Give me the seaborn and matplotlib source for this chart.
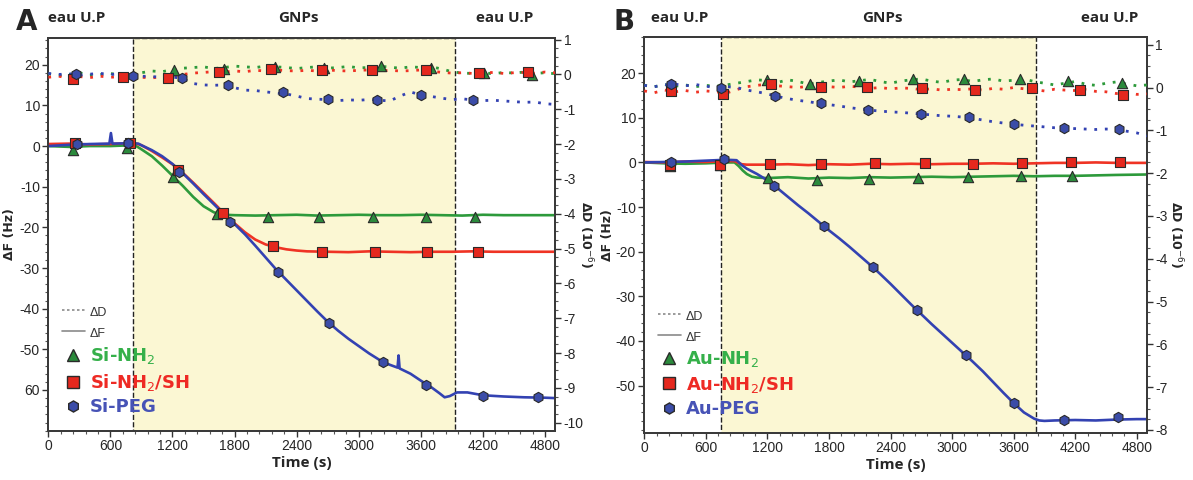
import numpy as np
import pandas as pd
import matplotlib
matplotlib.use('Agg')
import matplotlib.pyplot as plt
from matplotlib.lines import Line2D
from matplotlib.ticker import MultipleLocator
import seaborn as sns

# ---------------- data ----------------
# time grid (s) for the dissipation traces, one reading every 100 s
t_grid = list(range(0, 4901, 100))

# ---- panel A (Si) : frequency shift dF (Hz)
tA_nh2 = [0, 200, 400, 600, 800, 850, 900, 1000, 1100, 1200, 1300, 1400, 1500, 1600, 1700, 1800,
          2000, 2200, 2400, 2600, 2800, 3000, 3200, 3400, 3600, 3800, 4000, 4200, 4400, 4600, 4900]
dF_A_nh2 = [0, -0.2, 0, 0, 0.2, 0, -0.8, -2.5, -4.8, -7.3, -9.8, -12.5, -14.8, -16.3, -16.9, -17.0,
            -17.1, -17.0, -16.9, -17.1, -17.0, -16.9, -17.0, -17.0, -16.9, -17.0, -17.1, -16.9, -17.0, -17.0, -17.0]
tA_sh = [0, 200, 400, 600, 800, 850, 900, 1000, 1100, 1200, 1300, 1400, 1500, 1600, 1700, 1800, 1900,
         2000, 2100, 2200, 2300, 2400, 2500, 2700, 2900, 3100, 3300, 3500, 3700, 3900, 4100, 4300, 4500, 4700, 4900]
dF_A_sh = [0.5, 0.6, 0.4, 0.5, 0.7, 0.6, 0.2, -1.2, -2.8, -4.5, -6.6, -9.0, -11.5, -14.0, -16.6, -19.0, -21.2,
           -23.0, -24.2, -24.9, -25.4, -25.7, -25.9, -26.0, -26.1, -25.9, -26.0, -26.1, -26.0, -26.0, -25.9, -26.0,
           -26.0, -26.0, -26.0]
tA_peg = [0, 200, 400, 590, 605, 620, 800, 870, 900, 1000, 1100, 1200, 1300, 1400, 1500, 1600, 1700, 1800,
          1900, 2000, 2100, 2200, 2300, 2400, 2500, 2600, 2700, 2800, 2900, 3000, 3100, 3200, 3300, 3375, 3385,
          3395, 3500, 3600, 3700, 3780, 3830, 3880, 3950, 4050, 4200, 4400, 4600, 4800, 4900]
dF_A_peg = [0, 0.3, 0.5, 0.6, 3.2, 0.6, 0.7, 0.6, 0.2, -1.0, -2.5, -4.4, -6.7, -9.2, -11.8, -14.3, -16.8, -19.2,
            -21.7, -24.5, -27.4, -30.3, -32.9, -35.5, -38.1, -40.7, -43.2, -45.4, -47.4, -49.2, -51.0, -52.6, -53.8,
            -54.5, -51.5, -54.7, -56.0, -57.7, -59.3, -60.8, -61.8, -61.5, -60.6, -60.6, -61.3, -61.6, -61.8, -61.9, -62.0]

# panel A : dissipation dD (1e-6), on t_grid
dD_A_nh2 = [0.02, -0.03, 0.0, 0.05, -0.02, 0.0, 0.03, -0.02, 0.0,
            0.05, 0.1, 0.08, 0.14, 0.18, 0.2, 0.22, 0.17, 0.2, 0.24, 0.22, 0.2, 0.24, 0.22, 0.2,
            0.17, 0.2, 0.22, 0.18, 0.2, 0.23, 0.19, 0.2, 0.24, 0.21, 0.18, 0.22, 0.2, 0.22, 0.16,
            0.08, 0.04, 0.03, 0.05, 0.02, 0.06, 0.04, 0.07, 0.03, 0.05, 0.02]
dD_A_sh = [-0.08, -0.05, -0.1, -0.06, -0.09, -0.05, -0.08, -0.06, -0.07,
           -0.08, -0.1, -0.06, -0.05, 0.0, 0.04, 0.06, 0.08, 0.07, 0.1, 0.08, 0.12, 0.1, 0.13, 0.11,
           0.1, 0.12, 0.1, 0.13, 0.11, 0.1, 0.12, 0.13, 0.1, 0.12, 0.1, 0.11, 0.13, 0.1, 0.06,
           0.04, 0.05, 0.03, 0.04, 0.06, 0.03, 0.05, 0.06, 0.04, 0.07, 0.05]
dD_A_peg = [0.03, 0.0, 0.02, -0.02, 0.01, 0.03, 0.0, 0.02, -0.03,
            -0.05, -0.06, -0.08, -0.07, -0.12, -0.26, -0.3, -0.31, -0.3, -0.38, -0.45, -0.46, -0.5, -0.53,
            -0.56, -0.62, -0.69, -0.71, -0.72, -0.75, -0.73, -0.74, -0.72, -0.74, -0.76, -0.62, -0.5, -0.59,
            -0.63, -0.68, -0.72, -0.7, -0.73, -0.75, -0.74, -0.76, -0.78, -0.8, -0.79, -0.84, -0.86]

# panel A markers
mF_A_nh2_t = [242, 756, 1202, 1627, 2126, 2619, 3141, 3647, 4123]
mF_A_nh2_v = [-1.0, -0.6, -7.5, -16.6, -17.4, -17.4, -17.4, -17.4, -17.4]
mF_A_sh_t = [258, 789, 1256, 1691, 2168, 2641, 3156, 3656, 4148]
mF_A_sh_v = [0.7, 0.7, -5.9, -16.5, -24.5, -26.0, -26.0, -26.0, -26.0]
mF_A_peg_t = [280, 773, 1266, 1756, 2222, 2713, 3235, 3650, 4203, 4732]
mF_A_peg_v = [0.5, 0.8, -6.3, -18.8, -30.9, -43.5, -53.0, -58.7, -61.4, -61.8]
mD_A_nh2_t = [1218, 1698, 2191, 2669, 3215, 3698, 4206, 4679]
mD_A_nh2_v = [0.12, 0.15, 0.22, 0.19, 0.25, 0.19, 0.04, -0.02]
mD_A_sh_t = [237, 725, 1155, 1654, 2154, 2642, 3124, 3653, 4161, 4635]
mD_A_sh_v = [-0.12, -0.07, -0.1, 0.08, 0.15, 0.12, 0.14, 0.12, 0.03, 0.07]
mD_A_peg_t = [263, 821, 1292, 1740, 2266, 2706, 3172, 3598, 4109]
mD_A_peg_v = [0.0, -0.05, -0.09, -0.29, -0.51, -0.70, -0.72, -0.59, -0.73]

# ---- panel B (Au) : frequency shift dF (Hz)
tB_nh2 = [0, 200, 400, 600, 800, 880, 920, 960, 1000, 1050, 1100, 1200, 1400, 1600, 1800, 2000, 2200,
          2400, 2600, 2800, 3000, 3200, 3400, 3600, 3800, 4000, 4200, 4400, 4600, 4900]
dF_B_nh2 = [0, -0.2, -0.3, -0.2, 0, 0, -0.8, -1.8, -2.6, -3.2, -3.4, -3.5, -3.3, -3.6, -3.4, -3.5, -3.3,
            -3.4, -3.3, -3.2, -3.3, -3.2, -3.1, -3.0, -3.1, -3.0, -3.0, -2.9, -2.8, -2.7]
tB_sh = [0, 200, 400, 600, 800, 880, 950, 1000, 1200, 1400, 1600, 1800, 2000, 2200, 2400, 2600, 2800,
         3000, 3200, 3400, 3600, 3800, 4000, 4200, 4400, 4600, 4900]
dF_B_sh = [0.1, 0.0, 0.2, 0.1, 0.3, 0.3, -0.4, -0.5, -0.5, -0.4, -0.6, -0.4, -0.5, -0.3, -0.4, -0.3, -0.4,
           -0.3, -0.3, -0.2, -0.3, -0.2, -0.1, -0.1, 0.0, -0.1, -0.1]
tB_peg = [0, 200, 400, 600, 700, 800, 900, 950, 1000, 1100, 1200, 1300, 1400, 1500, 1600, 1700, 1800,
          1900, 2000, 2100, 2200, 2300, 2400, 2500, 2600, 2700, 2800, 2900, 3000, 3100, 3200, 3300, 3400,
          3500, 3600, 3700, 3800, 3850, 3900, 4000, 4200, 4400, 4600, 4800, 4900]
dF_B_peg = [0, 0.1, 0.2, 0.4, 0.5, 0.6, 0.5, -0.6, -1.4, -2.6, -4.0, -5.8, -7.7, -9.6, -11.4, -13.3, -15.2,
            -17.0, -18.9, -20.9, -22.9, -25.0, -27.2, -29.5, -31.8, -34.0, -36.2, -38.3, -40.4, -42.5, -44.6,
            -46.8, -49.2, -51.6, -53.9, -56.0, -57.4, -57.8, -57.9, -57.8, -57.7, -57.8, -57.6, -57.5, -57.5]

# panel B : dissipation dD (1e-6), on t_grid
dD_B_nh2 = [0.05, 0.02, 0.07, 0.03, 0.06, 0.02, 0.05, 0.03, 0.06,
            0.1, 0.14, 0.18, 0.16, 0.12, 0.18, 0.14, 0.08, 0.12, 0.15, 0.18, 0.13, 0.16, 0.19, 0.14,
            0.1, 0.15, 0.18, 0.2, 0.15, 0.12, 0.17, 0.19, 0.14, 0.18, 0.2, 0.15, 0.17, 0.2, 0.14,
            0.1, 0.06, 0.1, 0.14, 0.08, 0.05, 0.1, 0.13, 0.08, 0.04, 0.06]
dD_B_sh = [-0.08, -0.12, -0.06, -0.1, -0.07, -0.11, -0.08, -0.1, -0.13,
           -0.05, 0.02, 0.05, 0.08, 0.04, 0.02, 0.0, 0.03, 0.01, 0.02, 0.0, 0.03, 0.01, -0.02, 0.0,
           -0.03, -0.01, -0.02, -0.05, -0.03, -0.06, -0.04, -0.05, -0.03, -0.06, -0.02, -0.04, 0.0, -0.03,
           -0.05, -0.08, -0.04, -0.06, -0.07, -0.05, -0.09, -0.1, -0.14, -0.12, -0.16, -0.15]
dD_B_peg = [0.05, 0.02, 0.06, 0.08, 0.04, 0.07, 0.03, 0.0, 0.02,
            0.0, -0.06, -0.1, -0.15, -0.21, -0.26, -0.3, -0.33, -0.37, -0.4, -0.43, -0.47, -0.5, -0.53,
            -0.55, -0.57, -0.58, -0.6, -0.62, -0.64, -0.66, -0.67, -0.69, -0.72, -0.76, -0.8, -0.83, -0.86,
            -0.88, -0.9, -0.92, -0.94, -0.95, -0.96, -0.97, -0.98, -0.97, -0.98, -1.02, -1.06, -1.13]

# panel B markers
mF_B_nh2_t = [255, 741, 1210, 1684, 2195, 2672, 3154, 3670, 4165]
mF_B_nh2_v = [-0.7, -0.5, -3.5, -3.9, -3.7, -3.5, -3.3, -3.1, -3.1]
mF_B_sh_t = [255, 741, 1223, 1724, 2250, 2738, 3200, 3678, 4156, 4640]
mF_B_sh_v = [-0.6, -0.6, -0.4, -0.4, -0.15, -0.15, -0.4, -0.2, 0.2, 0.1]
mF_B_peg_t = [265, 776, 1268, 1751, 2225, 2654, 3137, 3606, 4093, 4620]
mF_B_peg_v = [0.2, 0.8, -5.2, -14.2, -23.4, -33.0, -43.2, -54.0, -57.7, -57.1]
mD_B_nh2_t = [1200, 1619, 2097, 2616, 3115, 3658, 4131, 4651]
mD_B_nh2_v = [0.17, 0.08, 0.15, 0.19, 0.19, 0.19, 0.15, 0.1]
mD_B_sh_t = [261, 772, 1240, 1723, 2172, 2703, 3228, 3777, 4249, 4664]
mD_B_sh_v = [-0.08, -0.14, 0.08, 0.01, 0.02, -0.02, -0.06, 0.0, -0.06, -0.17]
mD_B_peg_t = [261, 747, 1277, 1723, 2180, 2699, 3161, 3607, 4095, 4627]
mD_B_peg_v = [0.08, 0.0, -0.2, -0.37, -0.53, -0.62, -0.7, -0.86, -0.95, -0.98]

# injection window (GNPs) and axis settings
gnp_A = (818, 3929)
gnp_B = (753, 3815)
time_ticks = [0, 600, 1200, 1800, 2400, 3000, 3600, 4200, 4800]
yticks_A = [20, 10, 0, -10, -20, -30, -40, -50, -60]
ylabels_A = ['20', '10', '0', '-10', '-20', '-30', '-40', '-50', '60']
yticks_B = [20, 10, 0, -10, -20, -30, -40, -50]
labels_A = ['Si-NH$_2$', 'Si-NH$_2$/SH', 'Si-PEG']
labels_B = ['Au-NH$_2$', 'Au-NH$_2$/SH', 'Au-PEG']

# ---------------- styling ----------------
sns.set_style('ticks')
plt.rcParams['font.family'] = ['Liberation Sans', 'DejaVu Sans']
line_cols = ['#2d9a3b', '#ef3324', '#3342b2']
face_cols = ['#2b8a3c', '#e5281e', '#3b4ca8']
text_cols = ['#35b04a', '#ee2a24', '#4753b6']
markers = ['^', 's', 'h']
shade = '#fbf7d3'
dots = (0, (1.0, 2.8))


def draw_panel(ax, gnp, dF, dD, mF, mD, ylim_l, ylim_r, yt, ytl, rt, labels, lpad_l, lpad_r):
    ax.axvspan(gnp[0], gnp[1], facecolor=shade, edgecolor='#222222', ls='--', lw=1.0, zorder=0)
    ax2 = ax.twinx()
    for i in range(3):
        t, v = dF[i]
        sns.lineplot(x=t, y=v, ax=ax, color=line_cols[i], lw=1.9, estimator=None, sort=False, zorder=3)
        t, v = dD[i]
        sns.lineplot(x=t, y=v, ax=ax2, color=line_cols[i], lw=2.0, linestyle=dots,
                     estimator=None, sort=False, zorder=3)
    for i in range(3):
        t, v = mF[i]
        sns.scatterplot(x=t, y=v, ax=ax, marker=markers[i], color=face_cols[i], s=55,
                        edgecolor='#2a2a2a', linewidth=0.8, zorder=5)
        t, v = mD[i]
        sns.scatterplot(x=t, y=v, ax=ax2, marker=markers[i], color=face_cols[i], s=55,
                        edgecolor='#2a2a2a', linewidth=0.8, zorder=5)
    ax.set_xlim(0, 4900)
    ax.set_ylim(*ylim_l)
    ax2.set_ylim(*ylim_r)
    ax.set_xticks(time_ticks)
    ax.set_yticks(yt)
    ax.set_yticklabels(ytl)
    ax2.set_yticks(rt)
    ax2.set_yticklabels([str(r) for r in rt])
    ax.xaxis.set_minor_locator(MultipleLocator(120))
    ax.yaxis.set_minor_locator(MultipleLocator(2))
    ax2.yaxis.set_minor_locator(MultipleLocator(0.25))
    for a in (ax, ax2):
        a.tick_params(which='major', length=4, width=1, color='#333333', labelsize=10, pad=2)
        a.tick_params(which='minor', length=2, width=0.8, color='#555555')
        for s in a.spines.values():
            s.set_color('#3a3a3a')
            s.set_linewidth(1.4)
    ax.set_ylabel('ΔF (Hz)', fontsize=9, fontweight='bold', family=['DejaVu Sans'], labelpad=lpad_l)
    ax2.set_ylabel('ΔD (10$^{-6}$)', fontsize=9, fontweight='bold', family=['DejaVu Sans'],
                   rotation=270, labelpad=lpad_r)
    ax.set_xlabel('Time (s)', fontsize=11, fontweight='bold', family=['Open Sans', 'DejaVu Sans'], labelpad=2)

    handles = [Line2D([], [], color='#8a8a8a', lw=1.2, linestyle=(0, (1.5, 1.5))),
               Line2D([], [], color='#8a8a8a', lw=1.2)]
    for i in range(3):
        handles.append(Line2D([], [], ls='none', marker=markers[i], markersize=8,
                              markerfacecolor=face_cols[i], markeredgecolor='#2a2a2a'))
    leg = ax.legend(handles, ['ΔD', 'ΔF'] + labels, loc='lower left', bbox_to_anchor=(0.005, 0.01),
                    frameon=False, handlelength=1.3, handletextpad=0.25, labelspacing=0.3,
                    borderpad=0.1, fontsize=13)
    texts = leg.get_texts()
    for tx in texts[:2]:
        tx.set_fontsize(9)
        tx.set_color('#333333')
    for i, tx in enumerate(texts[2:]):
        tx.set_color(text_cols[i])
        tx.set_fontweight('bold')
        tx.set_family(['DejaVu Sans'])
    return ax2


fig = plt.figure(figsize=(11.93, 4.8), dpi=100)
axA = fig.add_axes([0.0405, 0.102, 0.425, 0.819])
axB = fig.add_axes([0.540, 0.098, 0.4215, 0.824])

draw_panel(axA, gnp_A,
           [(tA_nh2, dF_A_nh2), (tA_sh, dF_A_sh), (tA_peg, dF_A_peg)],
           [(t_grid, dD_A_nh2), (t_grid, dD_A_sh), (t_grid, dD_A_peg)],
           [(mF_A_nh2_t, mF_A_nh2_v), (mF_A_sh_t, mF_A_sh_v), (mF_A_peg_t, mF_A_peg_v)],
           [(mD_A_nh2_t, mD_A_nh2_v), (mD_A_sh_t, mD_A_sh_v), (mD_A_peg_t, mD_A_peg_v)],
           (-70.1, 26.6), (-10.24, 1.05), yticks_A, ylabels_A, list(range(1, -11, -1)), labels_A, 3, 8)
draw_panel(axB, gnp_B,
           [(tB_nh2, dF_B_nh2), (tB_sh, dF_B_sh), (tB_peg, dF_B_peg)],
           [(t_grid, dD_B_nh2), (t_grid, dD_B_sh), (t_grid, dD_B_peg)],
           [(mF_B_nh2_t, mF_B_nh2_v), (mF_B_sh_t, mF_B_sh_v), (mF_B_peg_t, mF_B_peg_v)],
           [(mD_B_nh2_t, mD_B_nh2_v), (mD_B_sh_t, mD_B_sh_v), (mD_B_peg_t, mD_B_peg_v)],
           (-60.6, 28.0), (-8.07, 1.17), yticks_B, [str(y) for y in yticks_B], list(range(1, -9, -1)), labels_B,
           1, 12)

# panel letters and phase labels
hdr = dict(fontsize=11, fontweight='bold', family=['Open Sans', 'DejaVu Sans'], ha='center', va='center')
fig.text(0.013, 0.955, 'A', fontsize=20, fontweight='bold', family=['DejaVu Sans'], va='center')
fig.text(0.514, 0.955, 'B', fontsize=20, fontweight='bold', family=['DejaVu Sans'], va='center')
for x, s in [(77, 'eau U.P'), (298, 'GNPs'), (505, 'eau U.P'),
             (680, 'eau U.P'), (882, 'GNPs'), (1110, 'eau U.P')]:
    fig.text(x / 1193, 1 - 18 / 480, s, **hdr)

fig.savefig('out.png', dpi=100)
